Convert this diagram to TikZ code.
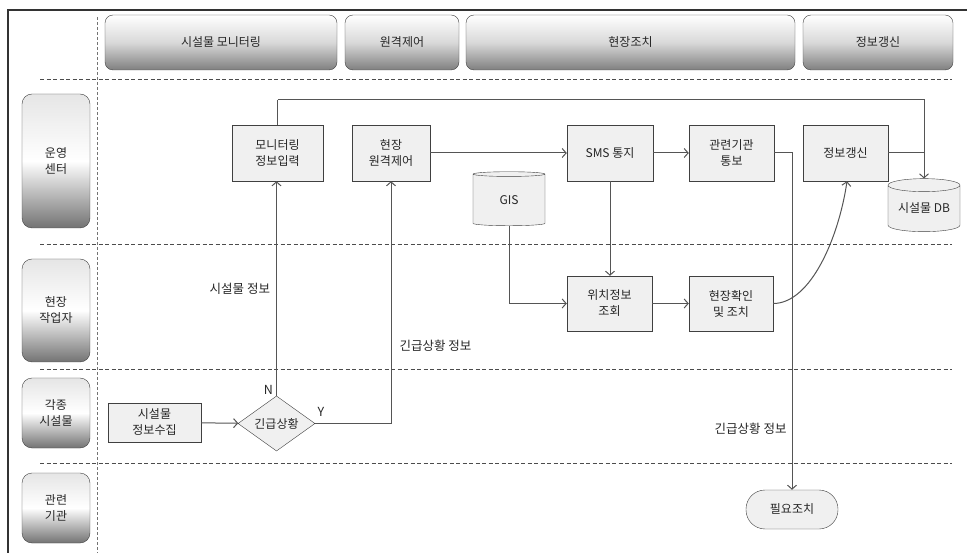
\documentclass[tikz,border=0pt]{standalone}
\usepackage{fontspec}
\setmainfont{Noto Sans CJK KR}
\usetikzlibrary{arrows.meta,positioning,shapes.geometric}
\definecolor{LineGray}{HTML}{555555}
\definecolor{BoxFill}{HTML}{F0F0F0}
\definecolor{TextGray}{HTML}{262626}
\tikzset{
  phase/.style={draw=black!75,rounded corners=8pt,top color=white,bottom color=black!50,
    middle color=black!15,minimum height=55pt,inner sep=0pt},
  lane/.style={draw=black!75,rounded corners=10pt,top color=black!10,bottom color=black!55,
    middle color=white,minimum width=68pt,inner sep=0pt,align=center},
  proc/.style={draw=black!75,fill=BoxFill,minimum height=56pt,inner sep=1pt,align=center},
  store/.style={cylinder,shape border rotate=90,aspect=0.25,draw=black!75,fill=BoxFill,
    minimum width=72pt,minimum height=54pt,inner sep=0pt},
  flow/.style={LineGray,line width=1pt},
  arr/.style={flow,-{Straight Barb[length=4pt,width=9pt]}},
  swim/.style={black!70,line width=0.8pt,dash pattern=on 4pt off 2.5pt},
  lbl/.style={font=\fontsize{12.5}{14}\selectfont,text=TextGray,inner sep=1pt}
}
\begin{document}
\begin{tikzpicture}[x=1pt,y=-1pt,font=\fontsize{12}{16}\selectfont,text=TextGray]
  \useasboundingbox (0,0) rectangle (967,553);
  % frame and swimlane separators
  \draw[black!80,line width=1.5pt] (8,553) -- (8,10) -- (967,10);
  \draw[black!55,line width=0.8pt,dash pattern=on 3pt off 2pt] (97,17) -- (97,553);
  \foreach \y in {79,244,369,463}
    \draw[swim] (40,\y) -- (952,\y);

  % phases
  \node[phase,minimum width=232pt] (phMon) at (221,42.5) {시설물 모니터링};
  \node[phase,minimum width=114pt] (phRem) at (402,42.5) {원격제어};
  \node[phase,minimum width=329pt] (phAct) at (630.5,42.5) {현장조치};
  \node[phase,minimum width=150pt] (phUpd) at (878,42.5) {정보갱신};

  % lanes
  \node[lane,minimum height=134pt] (lnCenter) at (56,161) {운영\\센터};
  \node[lane,minimum height=103pt] (lnWorker) at (56,310.5) {현장\\작업자};
  \node[lane,minimum height=70pt] (lnFacil) at (56,413) {각종\\시설물};
  \node[lane,minimum height=70pt] (lnAgency) at (56,508) {관련\\기관};

  % steps
  \node[proc,minimum width=91pt] (monInput) at (277.5,153) {모니터링\\정보입력};
  \node[proc,minimum width=78pt] (remCtrl) at (391,153) {현장\\원격제어};
  \node[proc,minimum width=86pt] (smsNote) at (610,153) {SMS 통지};
  \node[proc,minimum width=85pt] (agNote) at (731.5,153) {관련기관\\통보};
  \node[proc,minimum width=85pt] (infoUpd) at (845.5,153) {정보갱신};
  \node[store] (gis) at (509,200) {GIS};
  \node[store,minimum height=53pt] (facDB) at (924,208.5) {시설물 DB};
  \node[proc,minimum width=85pt,minimum height=55pt] (locQuery) at (609.5,303.5) {위치정보\\조회};
  \node[proc,minimum width=84pt,minimum height=55pt] (siteChk) at (731,303.5) {현장확인\\및 조치};
  \node[proc,minimum width=93pt,minimum height=39pt] (collect) at (154.5,422.5) {시설물\\정보수집};
  \node[diamond,draw=black!75,fill=BoxFill,minimum width=77pt,minimum height=55pt,
        inner sep=0pt] (emerg) at (276.5,423.5) {긴급상황};
  \node[draw=black!75,fill=BoxFill,rounded corners=19pt,minimum width=92pt,
        minimum height=39pt] (needAct) at (792,509.5) {필요조치};

  % connectors
  \draw[arr] (collect) -- (emerg);
  \draw[arr] (emerg.north) -- node[lbl,left=5pt,pos=0.5]{시설물 정보}
        node[lbl,above left,pos=0,xshift=-2pt]{N} (emerg.north |- monInput.south);
  \draw[arr] (emerg.east) -| node[lbl,right=7pt,pos=0.66]{긴급상황 정보}
        node[lbl,above right,pos=0,xshift=1pt,yshift=6pt]{Y} (remCtrl.south);
  \draw[flow] (monInput.north) -- ++(0,-25) coordinate (topBend);
  \draw[arr] (topBend) -| (facDB.north);
  \draw[flow] (infoUpd.east) -- (infoUpd.east -| facDB.north);
  \draw[arr] (remCtrl) -- (smsNote);
  \draw[arr] (smsNote) -- (agNote);
  \draw[arr] (agNote.east) -| node[lbl,left=4pt,pos=0.91]{긴급상황 정보} (needAct.north);
  \draw[arr] (smsNote.south) -- (smsNote.south |- locQuery.north);
  \draw[arr] (gis.south) |- (locQuery.west);
  \draw[arr] (locQuery) -- (siteChk);
  \draw[arr] (siteChk.east) .. controls +(38,0) and +(-8,55) .. ([xshift=1.5pt]infoUpd.south);
\end{tikzpicture}
\end{document}
